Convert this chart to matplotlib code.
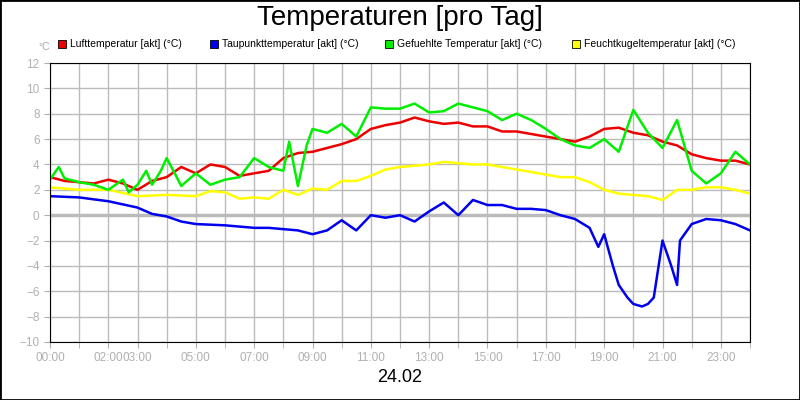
import matplotlib
matplotlib.use("Agg")
import matplotlib.pyplot as plt
from matplotlib.patches import Rectangle
plt.rcParams["font.family"] = "Liberation Sans"

red_t = [0,0.5,1,1.5,2,2.5,3,3.5,4,4.5,5,5.5,6,6.5,7,7.5,8,8.5,9,9.5,10,10.5,11,11.5,12,12.5,13,13.5,14,14.5,15,15.5,16,16.5,17,17.5,18,18.5,19,19.5,20,20.5,21,21.5,22,22.5,23,23.5,24]
red_v = [3.0,2.7,2.6,2.5,2.8,2.5,2.0,2.7,3.0,3.8,3.3,4.0,3.8,3.1,3.3,3.5,4.5,4.9,5.0,5.3,5.6,6.0,6.8,7.1,7.3,7.7,7.4,7.2,7.3,7.0,7.0,6.6,6.6,6.4,6.2,6.0,5.8,6.2,6.8,6.9,6.5,6.3,5.8,5.5,4.8,4.5,4.3,4.3,4.0]
green_t = [0,0.3,0.5,1,1.5,2,2.5,2.7,3,3.3,3.5,3.8,4,4.3,4.5,5,5.5,6,6.5,7,7.5,8,8.2,8.5,8.8,9,9.5,10,10.5,11,11.5,12,12.5,13,13.5,14,14.5,15,15.5,16,16.5,17,17.5,18,18.5,19,19.5,20,20.5,21,21.5,22,22.5,23,23.5,24]
green_v = [2.8,3.8,2.9,2.6,2.4,2.0,2.8,1.8,2.4,3.5,2.4,3.5,4.5,3.2,2.3,3.3,2.4,2.8,3.0,4.5,3.8,3.5,5.8,2.3,5.5,6.8,6.5,7.2,6.2,8.5,8.4,8.4,8.8,8.1,8.2,8.8,8.5,8.2,7.5,8.0,7.5,6.8,6.0,5.5,5.3,6.0,5.0,8.3,6.5,5.3,7.5,3.5,2.5,3.3,5.0,4.0]
yellow_t = [0,1,2,3,4,5,5.5,6,6.5,7,7.5,8,8.5,9,9.5,10,10.5,11,11.5,12,12.5,13,13.5,14,14.5,15,15.5,16,16.5,17,17.5,18,18.5,19,19.5,20,20.5,21,21.5,22,22.5,23,23.5,24]
yellow_v = [2.2,2.0,2.0,1.5,1.6,1.5,1.9,1.8,1.3,1.4,1.3,2.0,1.6,2.1,2.0,2.7,2.7,3.1,3.6,3.8,3.9,4.0,4.2,4.1,4.0,4.0,3.8,3.6,3.4,3.2,3.0,3.0,2.6,2.0,1.7,1.6,1.5,1.2,2.0,2.0,2.2,2.2,2.0,1.7]
blue_t = [0,1,2,3,3.5,4,4.5,5,6,7,7.5,8,8.5,9,9.5,10,10.5,11,11.5,12,12.5,13,13.5,14,14.5,15,15.5,16,16.5,17,17.5,18,18.5,18.8,19,19.3,19.5,19.8,20,20.3,20.5,20.7,21,21.3,21.5,21.6,22,22.5,23,23.5,24]
blue_v = [1.5,1.4,1.1,0.6,0.1,-0.1,-0.5,-0.7,-0.8,-1.0,-1.0,-1.1,-1.2,-1.5,-1.2,-0.4,-1.2,0.0,-0.2,0.0,-0.5,0.3,1.0,0.0,1.2,0.8,0.8,0.5,0.5,0.4,0.0,-0.3,-1.0,-2.5,-1.5,-4.0,-5.5,-6.5,-7.0,-7.2,-7.0,-6.5,-2.0,-4.0,-5.5,-2.0,-0.7,-0.3,-0.4,-0.7,-1.2]

names = ["Lufttemperatur [akt] (°C)", "Taupunkttemperatur [akt] (°C)",
         "Gefuehlte Temperatur [akt] (°C)", "Feuchtkugeltemperatur [akt] (°C)"]
tick_pos = [0,2,3,5,7,9,11,13,15,17,19,21,23]
tick_lab = ["00:00","02:00","03:00","05:00","07:00","09:00","11:00","13:00","15:00","17:00","19:00","21:00","23:00"]

fig = plt.figure(figsize=(8,4), dpi=100)
fig.patches.append(Rectangle((0,0),1,1,transform=fig.transFigure,fill=False,ec="black",lw=2))
ax = fig.add_axes([50/800, 1-342/400, 700/800, 279/400])
for h in range(25):
    ax.axvline(h, color="#bbbbbb", lw=1, zorder=0)
for v in range(-10,13,2):
    ax.axhline(v, color="#bbbbbb", lw=2.5 if v == 0 else 1, zorder=0)
ax.plot(yellow_t, yellow_v, color="#ffff00", lw=1.8)
ax.plot(red_t, red_v, color="#ee0000", lw=1.8)
ax.plot(green_t, green_v, color="#00ee00", lw=1.8)
ax.plot(blue_t, blue_v, color="#0000ee", lw=1.8)
ax.set_xlim(0,24); ax.set_ylim(-10,12)
ax.set_yticks(range(-10,13,2))
ax.set_xticks(tick_pos); ax.set_xticklabels(tick_lab)
ax.set_xticks(range(25), minor=True)
ax.tick_params(colors="#b0b0b0", labelsize=8.5, length=4, which="both")
for s in ax.spines.values():
    s.set_color("black")
fig.text(0.5, 1-18/400, "Temperaturen [pro Tag]", ha="center", va="center", fontsize=20)
fig.text(0.5, 1-378/400, "24.02", ha="center", va="center", fontsize=13)
fig.text(38/800, 1-47/400, "°C", color="#aaaaaa", fontsize=7.5, ha="left", va="center")
cols = ["#ee0000","#0000ee","#00ee00","#ffff00"]
xs = [58, 210, 385, 572]
for x, c, n in zip(xs, cols, names):
    fig.patches.append(Rectangle((x/800, 1-48/400), 8/800, 8/400, transform=fig.transFigure, fc=c, ec="black", lw=0.6))
    fig.text((x+12)/800, 1-44/400, n, fontsize=7.5, va="center", ha="left")
fig.savefig("out.png", dpi=100)
